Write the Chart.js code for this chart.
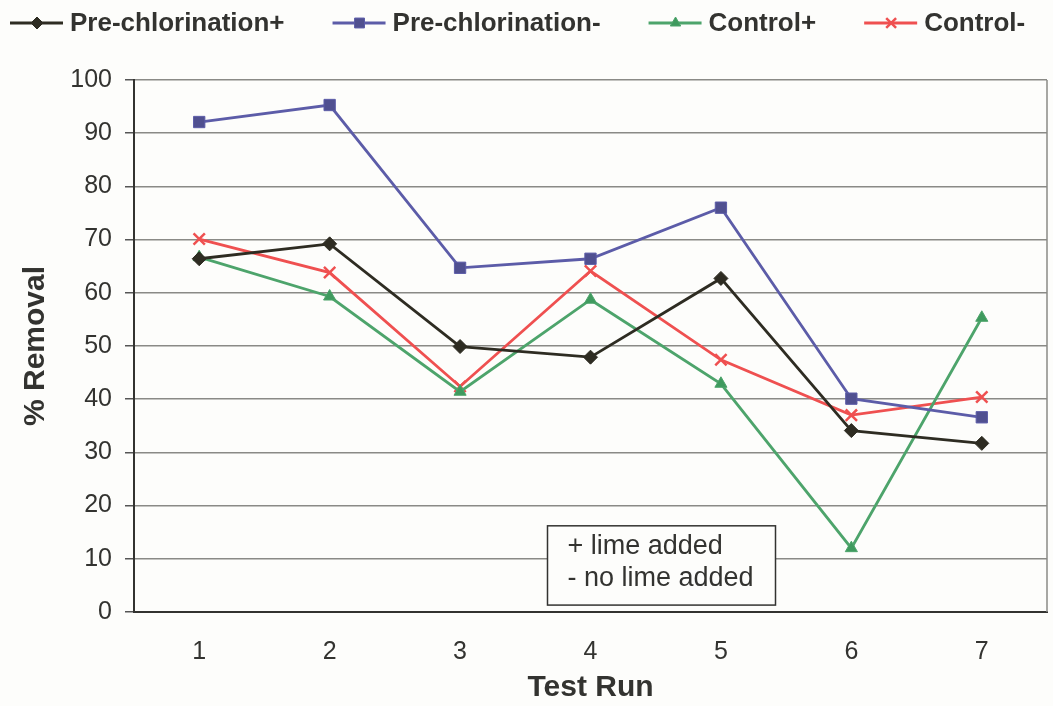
<!DOCTYPE html>
<html>
<head>
<meta charset="utf-8">
<script src="https://cdn.jsdelivr.net/npm/chart.js@4/dist/chart.umd.min.js"></script>
<style>
  html, body { margin: 0; padding: 0; background: #fdfdfb; overflow: hidden; }
  #wrap { width: 1053px; height: 706px; position: relative; }
</style>
</head>
<body>
<div id="wrap"><canvas id="c"></canvas></div>
<script>
// data
const testRuns = ['1', '2', '3', '4', '5', '6', '7']
const preChlorPlus  = [66.4, 69.2, 49.9, 47.9, 62.7, 34.1, 31.7]
const preChlorMinus = [92.1, 95.3, 64.7, 66.4, 76.0, 40.1, 36.6]
const controlPlus   = [66.7, 59.3, 41.4, 58.7, 42.9, 12.0, 55.3]
const controlMinus  = [70.1, 63.8, 42.4, 64.1, 47.4, 37.0, 40.4]
const noteLines = ['+ lime added', '- no lime added']

const FONT = '"Liberation Sans", Arial, sans-serif'
const TEXT = '#333330'

const series = [
  { label: 'Pre-chlorination+', data: preChlorPlus,  color: '#2e2c22', fill: '#2e2c22', style: 'rectRot',  radius: 7 },
  { label: 'Pre-chlorination-', data: preChlorMinus, color: '#5c5ca8', fill: '#505090', style: 'rect',     radius: 8 },
  { label: 'Control+',          data: controlPlus,   color: '#4da46b', fill: '#3f9a5e', style: 'triangle', radius: 7 },
  { label: 'Control-',          data: controlMinus,  color: '#ef5050', fill: '#ef5050', style: 'crossRot', radius: 8 },
]

function drawMarker(ctx, s, x, y, r) {
  ctx.save()
  ctx.fillStyle = s.fill
  ctx.strokeStyle = s.color
  ctx.lineWidth = s.style === 'crossRot' ? 2.5 : 1
  Chart.helpers.drawPoint(ctx, { pointStyle: s.style, radius: r, rotation: 0, borderWidth: ctx.lineWidth }, x, y)
  ctx.restore()
}

// ── Legend with line-through-marker swatches, plus frame and note box ─────────
const decorPlugin = {
  id: 'decor',
  beforeDraw(chart) {
    const ctx = chart.ctx
    ctx.save()
    ctx.fillStyle = '#fdfdfb'
    ctx.fillRect(0, 0, chart.width, chart.height)
    ctx.restore()
  },
  afterDraw(chart) {
    const ctx = chart.ctx
    const { right, top, bottom } = chart.chartArea
    const xs = chart.scales.x
    const ys = chart.scales.y

    // right edge of the plot frame
    ctx.save()
    ctx.strokeStyle = '#8a8a86'
    ctx.lineWidth = 1.5
    ctx.beginPath()
    ctx.moveTo(right, top)
    ctx.lineTo(right, bottom)
    ctx.stroke()
    ctx.restore()

    // legend
    ctx.save()
    ctx.font = 'bold 26px ' + FONT
    ctx.textBaseline = 'middle'
    let x = 10
    const y = 23
    series.forEach(s => {
      ctx.strokeStyle = s.color
      ctx.lineWidth = 2.8
      ctx.beginPath()
      ctx.moveTo(x, y)
      ctx.lineTo(x + 53, y)
      ctx.stroke()
      drawMarker(ctx, s, x + 27, y, s.radius - 1)
      ctx.fillStyle = TEXT
      ctx.fillText(s.label, x + 60, y + 1)
      x += 60 + ctx.measureText(s.label).width + 48
    })
    ctx.restore()

    // note box anchored to the scales
    const bx = xs.getPixelForValue(3) - 43
    const bw = 228
    const by = ys.getPixelForValue(16.2)
    const bh = ys.getPixelForValue(1.3) - by
    ctx.save()
    ctx.fillStyle = '#fdfdfb'
    ctx.fillRect(bx, by, bw, bh)
    ctx.strokeStyle = '#333330'
    ctx.lineWidth = 1.5
    ctx.strokeRect(bx, by, bw, bh)
    ctx.font = '27px ' + FONT
    ctx.fillStyle = TEXT
    ctx.textBaseline = 'middle'
    ctx.fillText(noteLines[0], bx + 20, by + bh * 0.26)
    ctx.fillText(noteLines[1], bx + 20, by + bh * 0.66)
    ctx.restore()
  },
}

new Chart(document.getElementById('c'), {
  type: 'line',
  plugins: [decorPlugin],
  data: {
    labels: testRuns,
    datasets: series.map(s => ({
      label: s.label,
      data: s.data,
      borderColor: s.color,
      borderWidth: 2.8,
      backgroundColor: s.fill,
      pointStyle: s.style,
      pointRadius: s.radius,
      pointBorderColor: s.color,
      pointBorderWidth: s.style === 'crossRot' ? 2.5 : 1,
      pointBackgroundColor: s.fill,
      tension: 0,
      fill: false,
    })),
  },
  options: {
    responsive: true,
    maintainAspectRatio: false,
    animation: false,
    layout: { autoPadding: false, padding: { top: 80, right: 6, left: 0, bottom: 0 } },
    plugins: {
      legend: { display: false },
      tooltip: { enabled: false },
    },
    scales: {
      x: {
        offset: true,
        grid: { display: false, drawTicks: false, offset: true },
        border: { color: '#333330', width: 2 },
        ticks: { color: TEXT, font: { family: FONT, size: 25 }, padding: 25 },
        title: { display: true, text: 'Test Run', color: '#333330',
                 font: { family: FONT, size: 30, weight: 'bold' }, padding: { top: 0, bottom: 0 } },
        afterFit: scale => {
          scale.height = 94
          scale.paddingLeft = 0
          scale.paddingRight = 0
        },
      },
      y: {
        min: 0,
        max: 100,
        ticks: { stepSize: 10, color: TEXT, font: { family: FONT, size: 25 }, padding: 13 },
        grid: { color: '#8a8a86', lineWidth: 1.5, tickLength: 9, tickColor: '#555' },
        border: { color: '#333330', width: 2 },
        title: { display: true, text: '% Removal', color: '#333330',
                 font: { family: FONT, size: 30, weight: 'bold' }, padding: { top: 18, bottom: 0 } },
        afterFit: scale => { scale.width = 134 },
      },
    },
  },
})
</script>
</body>
</html>
